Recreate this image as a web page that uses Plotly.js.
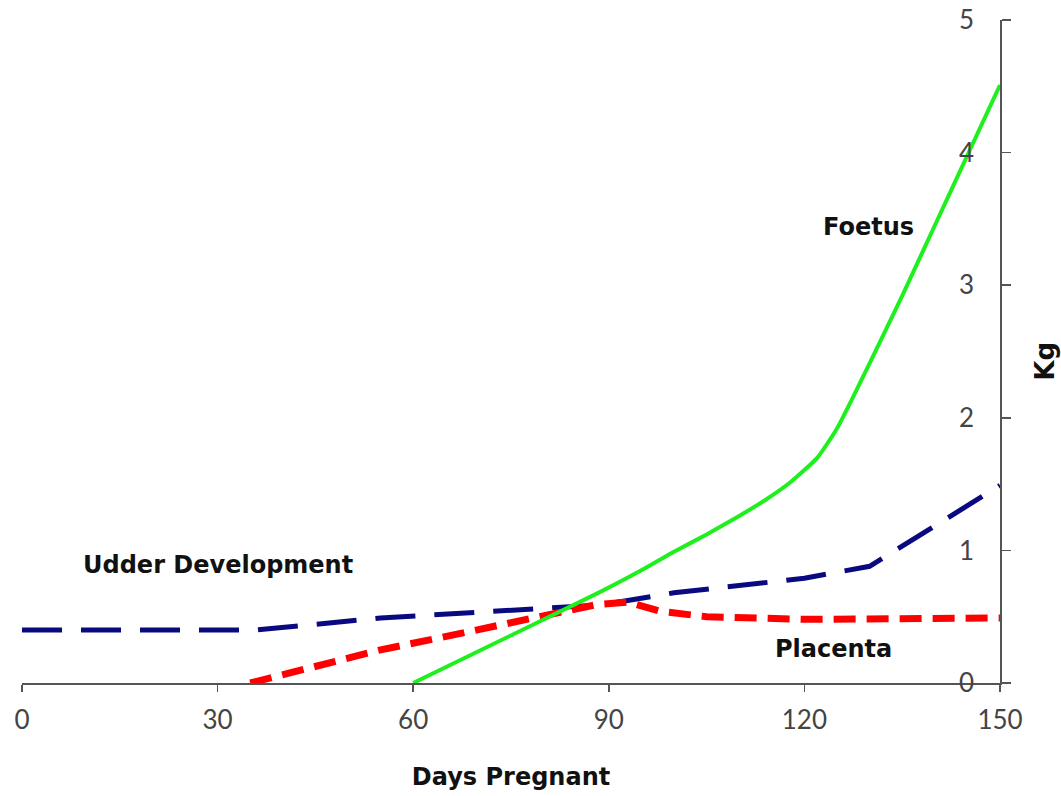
<!DOCTYPE html>
<html>
<head>
<meta charset="utf-8">
<script src="https://cdn.plot.ly/plotly-3.0.1.min.js"></script>
<style>html,body{margin:0;padding:0;background:#fff;}#chart{width:1061px;height:796px;}</style>
</head>
<body>
<div id="chart"></div>
<script>
// Days pregnant vs weight (kg)
const udderDays = [0, 36, 55, 70, 89, 100, 120, 130, 150];
const udderKg   = [0.4, 0.4, 0.49, 0.53, 0.59, 0.68, 0.79, 0.88, 1.49];

const placentaDays = [35, 55, 64, 75, 88, 93, 98, 105, 120, 150];
const placentaKg   = [0, 0.25, 0.34, 0.46, 0.59, 0.61, 0.54, 0.5, 0.48, 0.49];

const foetusDays = [60, 88, 95, 100, 105, 110, 114, 118, 122, 125, 127.5, 130, 135, 140, 145, 150];
const foetusKg   = [0, 0.67, 0.85, 0.99, 1.12, 1.26, 1.38, 1.52, 1.70, 1.92, 2.16, 2.41, 2.92, 3.45, 3.98, 4.51];

const xTicks = [0, 30, 60, 90, 120, 150];
const yTicks = [0, 1, 2, 3, 4, 5];

const labelFont = {family: '"DejaVu Sans", sans-serif', size: 24, color: '#111', weight: 'bold'};
const tickFont = {family: 'Lato, "DejaVu Sans", sans-serif', size: 26, color: '#444'};

const traces = [
  {x: udderDays, y: udderKg, mode: 'lines', name: 'Udder Development',
   line: {color: '#0a0a80', width: 5, dash: '40px,19px'}, cliponaxis: false},
  {x: placentaDays, y: placentaKg, mode: 'lines', name: 'Placenta',
   line: {color: '#ff0000', width: 7, dash: '22px,11px'}, cliponaxis: false},
  {x: foetusDays, y: foetusKg, mode: 'lines', name: 'Foetus',
   line: {color: '#1ef01e', width: 4, shape: 'spline', smoothing: 0.5}, cliponaxis: false}
];

const layout = {
  width: 1061, height: 796,
  margin: {l: 22, r: 61, t: 20, b: 113},
  paper_bgcolor: '#fff', plot_bgcolor: '#fff',
  showlegend: false,
  xaxis: {
    range: [0, 150], tickvals: xTicks, ticktext: xTicks.map(String),
    showgrid: false, zeroline: false, showline: true, linecolor: '#555', linewidth: 1.5,
    ticks: 'outside', ticklen: 7, tickcolor: '#555', tickwidth: 1.5,
    ticklabelstandoff: 6,
    tickfont: tickFont,
    title: {text: 'Days Pregnant', font: labelFont, standoff: 34}
  },
  yaxis: {
    range: [0, 5], tickvals: yTicks, ticktext: yTicks.map(String),
    side: 'right', ticklabelposition: 'inside', ticklabeloverflow: 'allow',
    ticklabelstandoff: 28,
    showgrid: false, zeroline: false, showline: true, linecolor: '#555', linewidth: 1.5,
    ticks: 'outside', ticklen: 9, tickcolor: '#555', tickwidth: 1.5,
    tickfont: tickFont
  },
  annotations: [
    {x: 129.8, y: 3.44, text: 'Foetus', showarrow: false, font: labelFont, xanchor: 'center', yanchor: 'middle'},
    {x: 30, y: 0.89, text: 'Udder Development', showarrow: false, font: labelFont, xanchor: 'center', yanchor: 'middle'},
    {x: 124.4, y: 0.26, text: 'Placenta', showarrow: false, font: labelFont, xanchor: 'center', yanchor: 'middle'},
    {xref: 'paper', yref: 'paper', x: 1.046, y: 0.486, text: 'Kg', textangle: -90, showarrow: false,
     font: Object.assign({}, labelFont, {size: 26}), xanchor: 'center', yanchor: 'middle'}
  ]
};

Plotly.newPlot('chart', traces, layout, {displayModeBar: false, staticPlot: true});
</script>
</body>
</html>
